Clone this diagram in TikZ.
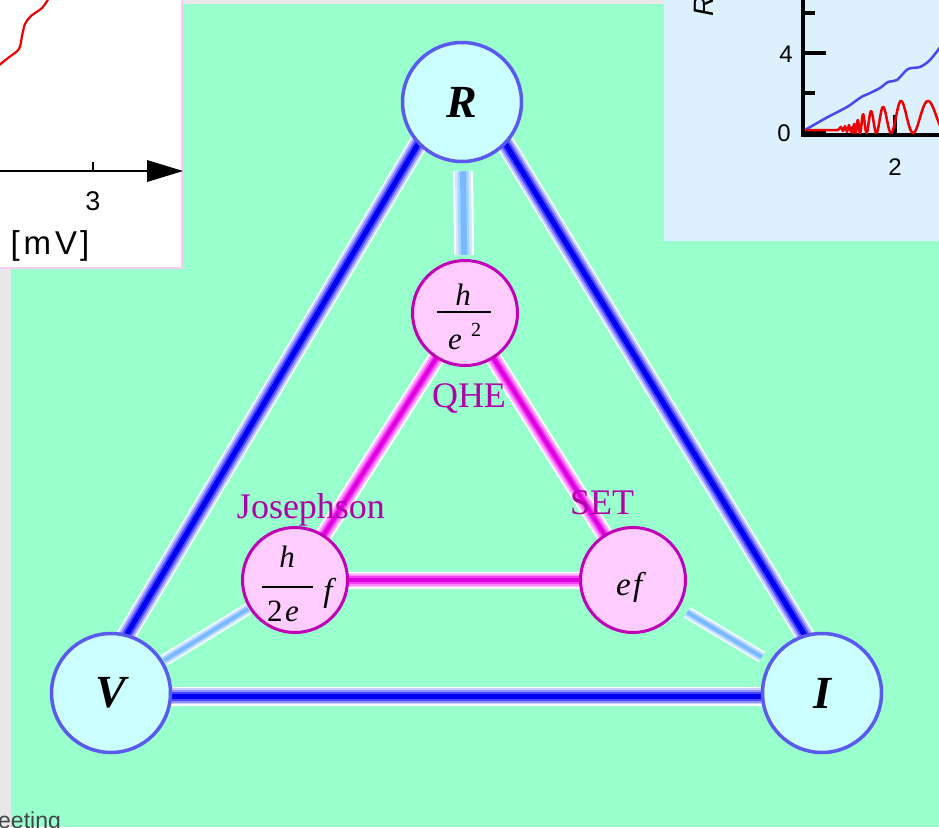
\documentclass[tikz,border=0pt]{standalone}
\usepackage{fontspec}
\setmainfont{Liberation Serif}
\setsansfont{Liberation Sans}
\usetikzlibrary{backgrounds,calc}

\definecolor{bggreen}{HTML}{99FFCC}
\definecolor{bggray}{HTML}{E8E8E8}
\definecolor{insetblue}{HTML}{DCF0FE}
\definecolor{insetpink}{HTML}{F8CCF4}
\definecolor{nodecyan}{HTML}{CCFFFF}
\definecolor{nodeblue}{HTML}{5A5AF0}
\definecolor{nodepink}{HTML}{FFCCFF}
\definecolor{nodemag}{HTML}{C000B8}
\definecolor{labmag}{HTML}{B000A8}
\definecolor{textgray}{HTML}{444444}
\definecolor{bbA}{HTML}{CCCCFF}
\definecolor{bbB}{HTML}{9090FF}
\definecolor{bbC}{HTML}{4848FF}
\definecolor{bbD}{HTML}{0000F0}
\definecolor{sbA}{HTML}{D2E8FF}
\definecolor{sbB}{HTML}{A8D2FF}
\definecolor{sbC}{HTML}{7AB8FF}
\definecolor{mbA}{HTML}{FFC0FF}
\definecolor{mbB}{HTML}{FF88FF}
\definecolor{mbC}{HTML}{F040F0}
\definecolor{mbD}{HTML}{E000E0}
\definecolor{curvered}{HTML}{EE0000}
\definecolor{curveblue}{HTML}{4848F0}

\tikzset{
  bignode/.style={circle, draw=nodeblue, fill=nodecyan, line width=3.5pt,
    minimum size=119pt, inner sep=0pt, font=\fontsize{46}{50}\selectfont\bfseries\itshape},
  smallnode/.style={circle, draw=nodemag, fill=nodepink, line width=3pt,
    minimum size=105pt, inner sep=0pt},
  fracpart/.style={font=\itshape\fontsize{31}{31}\selectfont, inner sep=0pt},
  bigpart/.style={font=\itshape\fontsize{33}{33}\selectfont, inner sep=0pt},
  fracbar/.style={line width=1.8pt},
  lab/.style={text=labmag, font=\fontsize{36}{38}\selectfont, inner sep=0pt},
  axlab/.style={font=\sffamily\fontsize{24}{24}\selectfont, inner sep=0pt},
  blueband/.style={draw=bbD, line width=5pt,
    preaction={draw=bbC, line width=9pt,
      preaction={draw=bbB, line width=13pt,
        preaction={draw=bbA, line width=16.5pt,
          preaction={draw=white, line width=19pt}}}}},
  magband/.style={draw=mbD, line width=4pt,
    preaction={draw=mbC, line width=7.5pt,
      preaction={draw=mbB, line width=11pt,
        preaction={draw=mbA, line width=14pt,
          preaction={draw=white, line width=17pt}}}}},
  spokewide/.style={draw=sbC, line width=6pt,
    preaction={draw=sbB, line width=11pt,
      preaction={draw=sbA, line width=16pt,
        preaction={draw=white, line width=20pt}}}},
  spokenarrow/.style={draw=sbC, line width=3.5pt,
    preaction={draw=sbB, line width=6.5pt,
      preaction={draw=sbA, line width=9.5pt,
        preaction={draw=white, line width=12pt}}}},
}

\begin{document}
\begin{tikzpicture}[x=1pt, y=-1pt]
\useasboundingbox (0,0) rectangle (939,827);

% main nodes
\node[bignode] (R) at (462,102) {R};
\node[bignode] (V) at (111,693) {V};
\node[bignode] (I) at (822,693) {I};
\node[smallnode] (QHE) at (465,313) {};
\node[smallnode] (JOS) at (295,580) {};
\node[smallnode] (SET) at (633,580) {};

% formulas inside the small circles
\node[fracpart, anchor=base] (qh) at (463,305) {h};
\draw[fracbar] (437,312) -- (491,312);
\node[fracpart, anchor=base west] (qe) at (448,349) {e};
\node[font=\fontsize{20}{20}\selectfont, inner sep=0pt, anchor=base west] (q2) at (471,336) {2};
\node[fracpart, anchor=base] (jh) at (287,567) {h};
\draw[fracbar] (262,587) -- (313,587);
\node[fracpart, anchor=base west] (j2) at (267,621) {\upshape 2};
\node[fracpart, anchor=base west] (je) at (285,621) {e};
\node[bigpart, anchor=base] (jf) at (328,601) {f};
\node[bigpart, anchor=base west] (se) at (616,595) {e};
\node[bigpart, anchor=base west] (sf) at (633,595) {f};

% labels
\node[lab] (qhelab) at (469,398) {QHE};
\node[lab] (joslab) at (311,510) {Josephson};
\node[lab] (setlab) at (602,503) {SET};

\begin{pgfonlayer}{background}
  % page backgrounds
  \fill[bggray] (0,0) rectangle (939,827);
  \fill[bggreen] (11,4) rectangle (939,827);
  % top-left inset
  \fill[insetpink] (0,0) rectangle (183,269);
  \fill[white] (0,0) rectangle (181,267);
  \draw[curvered, line width=2.2pt] plot[smooth] coordinates
    {(-2,66) (8,58) (19,49) (22,36) (25,24) (31,16) (42,8) (49,-2)};
  \draw[black, line width=2pt] (-2,171) -- (150,171);
  \fill[black] (147,160) -- (183,171) -- (147,182) -- cycle;
  \draw[black, line width=1.5pt] (93,162) -- (93,171);
  \node[font=\sffamily\fontsize{27}{27}\selectfont, inner sep=0pt] (tl3) at (93,201) {3};
  \node[font=\sffamily\fontsize{33}{33}\selectfont, inner sep=0pt] (tlmv) at (50,246) {[\hspace{4pt}m\hspace{4pt}V\hspace{3pt}]};
  % top-right inset
  \fill[insetblue] (664,0) rectangle (939,241);
  \draw[black, line width=4pt] (803,-2) -- (803,137);
  \draw[black, line width=4pt] (801,135) -- (941,135);
  \draw[black, line width=3.5pt] (803,13) -- (815,13);
  \draw[black, line width=3.5pt] (803,53) -- (826,53);
  \draw[black, line width=3.5pt] (803,93) -- (815,93);
  \draw[black, line width=3.5pt] (803,133) -- (826,133);
  \draw[black, line width=3.5pt] (895,115) -- (895,135);
  \node[axlab] (tr4) at (786,54) {4};
  \node[axlab] (tr0) at (784,133) {0};
  \node[axlab] (tr2) at (895,167) {2};
  \node[font=\sffamily\itshape\fontsize{28}{28}\selectfont, inner sep=0pt, rotate=90] (trR) at (704,6) {R};
  \draw[curveblue, line width=2.5pt] plot[smooth] coordinates
    {(805,130) (826,118) (847,107) (857,100) (863,96) (868,94) (880,88) (888,82) (897,80) (908,69) (920,67) (930,60) (941,46)};
  \draw[curvered, line width=2.5pt, line join=round] (806,130) -- (838,130) -- (841,127) -- (843,131) -- (845,126) -- (847,132) -- (849,125) -- (851,132) --
    plot[domain=852:941, samples=300] (\x, {133 - min(min(19+(\x-863)*0.35, (\x-846)*1.1), 32)*(1+cos(360*ln((\x-847)/16)/ln(1.5)))/2});

  % connectors
  \draw[blueband] ($(R.center)+(-19,0)$) -- ($(V.center)+(-19,0)$);
  \draw[blueband] ($(R.center)+(18,0)$) -- ($(I.center)+(18,0)$);
  \draw[blueband] ($(V.center)+(0,3)$) -- ($(I.center)+(0,3)$);
  \draw[magband] (QHE.center) -- (JOS.center);
  \draw[magband] (QHE.center) -- (SET.center);
  \draw[magband] (JOS.center) -- (SET.center);
  \draw[spokewide, shorten <=8pt, shorten >=4pt] (R) -- (QHE);
  \draw[spokenarrow, shorten <=1pt, shorten >=1pt] (V) -- (JOS);
  \draw[spokenarrow, shorten <=9pt, shorten >=9pt] (I) -- (SET);
\end{pgfonlayer}

% cut-off text at bottom left
\node[anchor=base west, font=\sffamily\fontsize{23}{23}\selectfont, text=textgray, inner sep=0pt] (cut) at (-2,828) {eeting};
\end{tikzpicture}
\end{document}
